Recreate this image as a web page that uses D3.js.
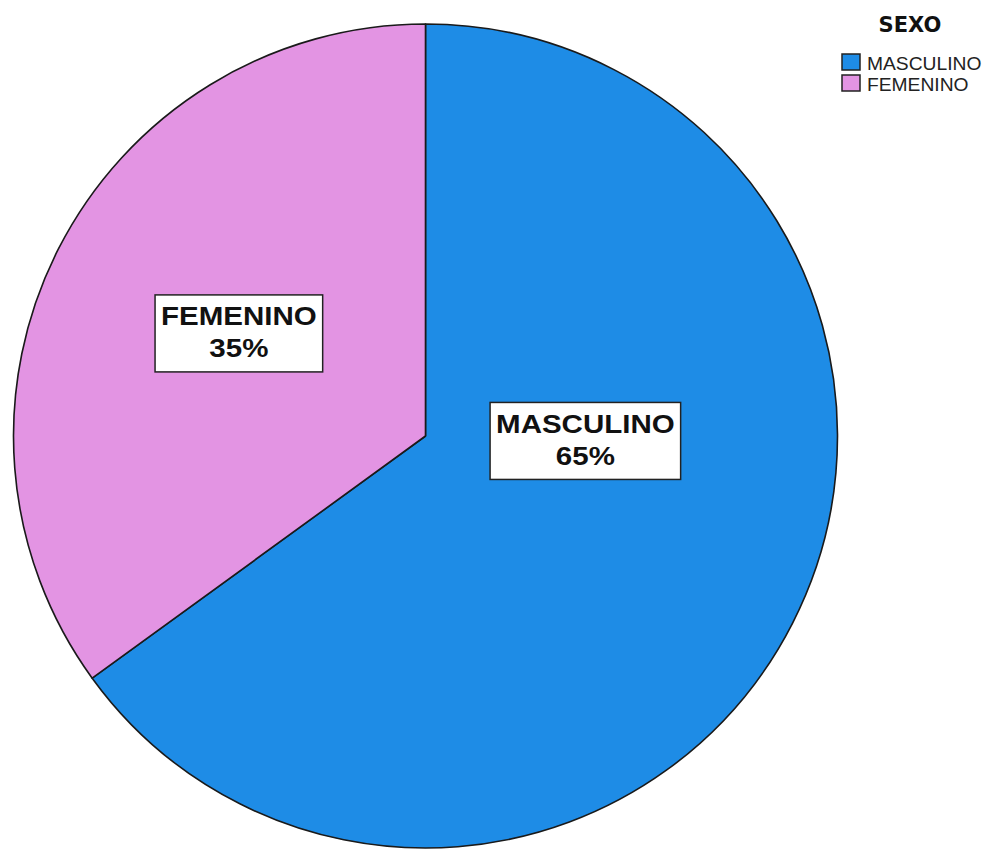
<!DOCTYPE html>
<html>
<head>
<meta charset="utf-8">
<script src="https://cdn.jsdelivr.net/npm/d3@7"></script>
<style>
  body { margin: 0; background: #fff; }
  svg { display: block; }
</style>
</head>
<body>
<div id="chart"></div>
<script>
// data
var categories = ["MASCULINO", "FEMENINO"];
var values = [65, 35];
var percentLabels = ["65%", "35%"];
var colors = ["#1e8ce6", "#e394e3"];
var legendTitle = "SEXO";

var width = 985, height = 849;
var cx = 425.5, cy = 436, radius = 412;

// where each label box sits, as fraction of radius from the centre
var labelAt = [[0.388, 0.012], [-0.453, -0.249]];

var svg = d3.select("#chart").append("svg")
    .attr("width", width)
    .attr("height", height);

var data = categories.map(function(c, i){
    return {name: c, value: values[i], pct: percentLabels[i], color: colors[i]};
});

var pie = d3.pie()
    .sort(null)
    .value(function(d){ return d.value; });

var arc = d3.arc()
    .innerRadius(0)
    .outerRadius(radius);

var g = svg.append("g")
    .attr("transform", "translate(" + cx + "," + cy + ")");

g.selectAll("path.slice")
    .data(pie(data))
    .enter().append("path")
    .attr("class", "slice")
    .attr("d", arc)
    .attr("fill", function(d){ return d.data.color; })
    .attr("stroke", "#1a1a1a")
    .attr("stroke-width", 1.6)
    .attr("stroke-linejoin", "round");

// labels in boxes
var labels = g.selectAll("g.lbl")
    .data(data)
    .enter().append("g")
    .attr("class", "lbl")
    .attr("transform", function(d, i){
        return "translate(" + (labelAt[i][0] * radius) + "," + (labelAt[i][1] * radius) + ")";
    });

labels.each(function(d){
    var lg = d3.select(this);
    var box = lg.append("rect")
        .attr("fill", "#fff")
        .attr("stroke", "#222")
        .attr("stroke-width", 1.5);
    var t = lg.append("g").attr("transform", "scale(1.18,1)");
    t.append("text")
        .attr("text-anchor", "middle")
        .attr("y", -8)
        .style("font-family", "'Liberation Sans', Arial, sans-serif")
        .style("font-weight", "bold")
        .style("font-size", "25px")
        .attr("fill", "#111")
        .text(d.name);
    t.append("text")
        .attr("text-anchor", "middle")
        .attr("y", 24)
        .style("font-family", "'Liberation Sans', Arial, sans-serif")
        .style("font-weight", "bold")
        .style("font-size", "25px")
        .attr("fill", "#111")
        .text(d.pct);
    var w = t.node().getBBox().width * 1.18 + 12;
    box.attr("x", -w / 2).attr("y", -38.5).attr("width", w).attr("height", 77);
});

// legend
var legend = svg.append("g");
legend.append("text")
    .attr("x", 910)
    .attr("y", 32)
    .attr("text-anchor", "middle")
    .style("font-family", "'DejaVu Sans', Verdana, sans-serif")
    .style("font-weight", "bold")
    .style("font-size", "21px")
    .attr("fill", "#111")
    .text(legendTitle);

var items = legend.selectAll("g.item")
    .data(data)
    .enter().append("g")
    .attr("class", "item")
    .attr("transform", function(d, i){ return "translate(842," + (54 + i * 21) + ")"; });

items.append("rect")
    .attr("width", 18)
    .attr("height", 16)
    .attr("fill", function(d){ return d.color; })
    .attr("stroke", "#222")
    .attr("stroke-width", 1.5);

items.append("text")
    .attr("transform", "translate(25,16) scale(1.07,1)")
    .style("font-family", "'Liberation Sans', Arial, sans-serif")
    .style("font-size", "18px")
    .attr("fill", "#222")
    .text(function(d){ return d.name; });
</script>
</body>
</html>
